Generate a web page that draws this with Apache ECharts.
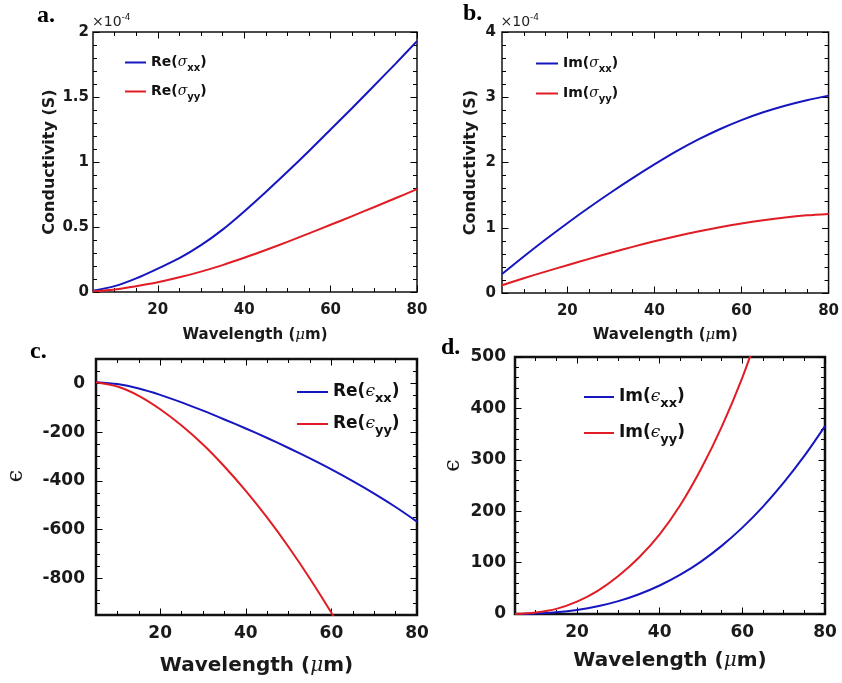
<!DOCTYPE html>
<html><head><meta charset="utf-8">
<script src="https://cdn.jsdelivr.net/npm/echarts@6/dist/echarts.min.js"></script>
<style>html,body{margin:0;padding:0;background:#fff}#c{width:842px;height:683px}</style>
</head><body><div id="c"></div>
<script>
// ---------- data ----------
const wavelength = [5,10,15,20,25,30,35,40,45,50,55,60,65,70,75,80];
// panel a (x 1e-4 S)
const reSigmaXX = [0.01,0.045,0.105,0.18,0.26,0.36,0.48,0.62,0.77,0.925,1.085,1.25,1.415,1.585,1.755,1.93];
const reSigmaYY = [0.005,0.02,0.045,0.075,0.113,0.157,0.207,0.263,0.323,0.386,0.451,0.517,0.584,0.652,0.721,0.791];
// panel b (x 1e-4 S)
const imSigmaXX = [0.29,0.56,0.82,1.07,1.31,1.54,1.76,1.97,2.17,2.35,2.51,2.65,2.77,2.87,2.955,3.025];
const imSigmaYY = [0.118,0.226,0.328,0.426,0.523,0.617,0.707,0.792,0.87,0.942,1.008,1.066,1.116,1.158,1.19,1.212];
// panel c
const reEpsXX = [5,-3,-21,-47,-78,-112,-148,-185,-224,-265,-308,-353,-401,-452,-507,-567];
const reEpsYY = [5,-13,-51,-106,-173,-251,-341,-441,-551,-671,-801,-941,-1091];
// panel d
const imEpsXX = [0,1,3.5,8,15,25,38.5,55.5,76.5,102,132.5,168,209,255.5,307.5,365.5];
const imEpsYY = [0,3,10,24,45,74,110,155,212,282,364,460,572];

// ---------- ticks ----------
const xMajor = [20,40,60,80];
const xMinor = [10,15,25,30,35,45,50,55,65,70,75];
const yMajorA = [0,0.5,1,1.5,2];
const yMinorA = [0.1,0.2,0.3,0.4,0.6,0.7,0.8,0.9,1.1,1.2,1.3,1.4,1.6,1.7,1.8,1.9];
const yMajorB = [0,1,2,3,4];
const yMinorB = [0.2,0.4,0.6,0.8,1.2,1.4,1.6,1.8,2.2,2.4,2.6,2.8,3.2,3.4,3.6,3.8];
const yMajorC = [-800,-600,-400,-200,0];
const yMinorC = [-900,-850,-750,-700,-650,-550,-500,-450,-350,-300,-250,-150,-100,-50,50];
const yMajorD = [0,100,200,300,400,500];
const yMinorD = [20,40,60,80,120,140,160,180,220,240,260,280,320,340,360,380,420,440,460,480];

const BLUE = '#1616c0', RED = '#e01c24';
const SANS = 'DejaVu Sans';

const panels = [
  {label:'a.', labelPos:[37,4], grid:{left:93, top:32, width:324, height:260}, border:1.5,
   xMin:5, xMax:80, yMin:0, yMax:2, yMajor:yMajorA, yMinor:yMinorA,
   tickFont:15, titleFont:15, xGap:36, yGap:35, yLabelMargin:4, xLabelMargin:11,
   yName:'Conductivity (S)', exp:true, epsShift:0,
   series:[['Re(σxx)', reSigmaXX, BLUE], ['Re(σyy)', reSigmaYY, RED]],
   legend:{left:125, top:52, itemWidth:21, gap:8, font:14, sub:10, lh:20, drop:5.5}},
  {label:'b.', labelPos:[463,2], grid:{left:502, top:32, width:327, height:261}, border:1.5,
   xMin:5, xMax:80, yMin:0, yMax:4, yMajor:yMajorB, yMinor:yMinorB,
   tickFont:15, titleFont:15, xGap:35, yGap:23, yLabelMargin:6, xLabelMargin:11,
   yName:'Conductivity (S)', exp:true, epsShift:0,
   series:[['Im(σxx)', imSigmaXX, BLUE], ['Im(σyy)', imSigmaYY, RED]],
   legend:{left:536, top:53, itemWidth:22, gap:9, font:14, sub:10, lh:20, drop:5.5}},
  {label:'c.', labelPos:[30,340], grid:{left:96, top:359, width:321, height:256}, border:2.5,
   xMin:5, xMax:80, yMin:-950, yMax:100, yMajor:yMajorC, yMinor:yMinorC,
   tickFont:17, titleFont:20, xGap:41, yGap:69, yLabelMargin:11, xLabelMargin:10,
   yName:'ϵ', exp:false, epsShift:22,
   series:[['Re(ϵxx)', reEpsXX, BLUE], ['Re(ϵyy)', reEpsYY, RED]],
   legend:{left:297, top:379, itemWidth:31, gap:6, font:17, sub:13, lh:22, drop:6.5}},
  {label:'d.', labelPos:[441,336], grid:{left:515, top:357, width:310, height:257}, border:2.5,
   xMin:5, xMax:80, yMin:0, yMax:500, yMajor:yMajorD, yMinor:yMinorD,
   tickFont:17, titleFont:20, xGap:37, yGap:51, yLabelMargin:9, xLabelMargin:10,
   yName:'ϵ', exp:false, epsShift:40,
   series:[['Im(ϵxx)', imEpsXX, BLUE], ['Im(ϵyy)', imEpsYY, RED]],
   legend:{left:584, top:384, itemWidth:30, gap:10, font:17, sub:13, lh:22, drop:6.5}}
];

const grid = [], xAxis = [], yAxis = [], series = [], legend = [], title = [];

function tickAxis(base, values, len, extra) {
  return Object.assign({}, base, {
    axisLine:{show:false, onZero:false},
    axisTick:{show:true, inside:true, length:len, customValues:values, lineStyle:{color:'#000', width:1}},
    axisLabel:{show:false},
    splitLine:{show:false}
  }, extra || {});
}

panels.forEach((p, gi) => {
  grid.push(Object.assign({show:true, borderColor:'#111', borderWidth:p.border, backgroundColor:'transparent', containLabel:false}, p.grid));
  title.push({text:p.label, left:p.labelPos[0], top:p.labelPos[1], padding:0,
    textStyle:{fontFamily:'Liberation Serif', fontWeight:'bold', fontSize:24, color:'#000'}});

  const xb = {type:'value', gridIndex:gi, min:p.xMin, max:p.xMax};
  const xMainIdx = xAxis.length;
  xAxis.push(tickAxis(Object.assign({position:'bottom'}, xb), xMajor, 6.5, {
    axisLabel:{show:true, customValues:xMajor, margin:p.xLabelMargin, fontFamily:SANS, fontWeight:'bold', fontSize:p.tickFont, color:'#1a1a1a'},
    name:'{t|Wavelength (}{mu|μ}{t|m)}', nameLocation:'middle', nameGap:p.xGap,
    nameTextStyle:{rich:{
      t:{fontFamily:SANS, fontWeight:'bold', fontSize:p.titleFont, color:'#1a1a1a'},
      mu:{fontFamily:'DejaVu Serif', fontStyle:'italic', fontSize:p.titleFont, color:'#1a1a1a'}}}
  }));
  xAxis.push(tickAxis(Object.assign({position:'bottom'}, xb), xMinor, 4));
  xAxis.push(tickAxis(Object.assign({position:'top'}, xb), xMajor, 6.5));
  xAxis.push(tickAxis(Object.assign({position:'top'}, xb), xMinor, 4));

  const yb = {type:'value', gridIndex:gi, min:p.yMin, max:p.yMax};
  const yMainIdx = yAxis.length;
  const yMain = {
    axisLabel:{show:true, customValues:p.yMajor, margin:p.yLabelMargin, fontFamily:SANS, fontWeight:'bold', fontSize:p.tickFont, color:'#1a1a1a'},
    name:p.yName, nameLocation:'middle', nameGap:p.yGap, nameRotate:90,
    nameTextStyle: p.exp ? {fontFamily:SANS, fontWeight:'bold', fontSize:16, color:'#1a1a1a'}
                         : {fontFamily:'DejaVu Serif', fontSize:22, color:'#1a1a1a', padding:[0,0,0,p.epsShift]}
  };
  yAxis.push(tickAxis(Object.assign({position:'left'}, yb), p.yMajor, 6.5, yMain));
  yAxis.push(tickAxis(Object.assign({position:'left'}, yb), p.yMinor, 4));
  yAxis.push(tickAxis(Object.assign({position:'right'}, yb), p.yMajor, 6.5));
  yAxis.push(tickAxis(Object.assign({position:'right'}, yb), p.yMinor, 4,
    p.exp ? {name:'{n|×10}{sup|-4}', nameLocation:'end', nameGap:3,
      nameTextStyle:{align:'left', padding:[0,0,0,-p.grid.width - 1], rich:{
        n:{fontFamily:SANS, fontSize:14, color:'#222', lineHeight:16, verticalAlign:'bottom'},
        sup:{fontFamily:SANS, fontSize:9, color:'#222', lineHeight:9, verticalAlign:'top'}}}} : {}));

  const names = [];
  p.series.forEach(([name, vals, color]) => {
    names.push(name);
    series.push({type:'line', name, xAxisIndex:xMainIdx, yAxisIndex:yMainIdx,
      data: vals.map((v, i) => [wavelength[i], v]),
      symbol:'none', showSymbol:false, smooth:0.3, clip:true,
      lineStyle:{color, width:2}, itemStyle:{color}, z:3});
  });
  const L = p.legend;
  legend.push({data:names, orient:'vertical', left:L.left, top:L.top, padding:0,
    icon:'rect', itemWidth:L.itemWidth, itemHeight:2, itemGap:L.gap, selectedMode:false,
    formatter: (name) => {
      const m = name.match(/^(\w+)\((.)(\w+)\)$/);
      return '{b|' + m[1] + '(}{g|' + m[2] + '}{s|' + m[3] + '}{b|)}';
    },
    textStyle:{rich:{
      b:{fontFamily:SANS, fontWeight:'bold', fontSize:L.font, color:'#111', lineHeight:L.lh},
      g:{fontFamily:'DejaVu Serif', fontStyle:'italic', fontSize:L.font, color:'#111', lineHeight:L.lh},
      s:{fontFamily:SANS, fontWeight:'bold', fontSize:L.sub, color:'#111', lineHeight:L.lh - 2*L.drop, padding:[2*L.drop,0,0,0]}
    }}});
});

const chart = echarts.init(document.getElementById('c'), null, {renderer:'canvas'});
chart.setOption({backgroundColor:'#fff', animation:false, title, grid, xAxis, yAxis, series, legend});
</script></body></html>
